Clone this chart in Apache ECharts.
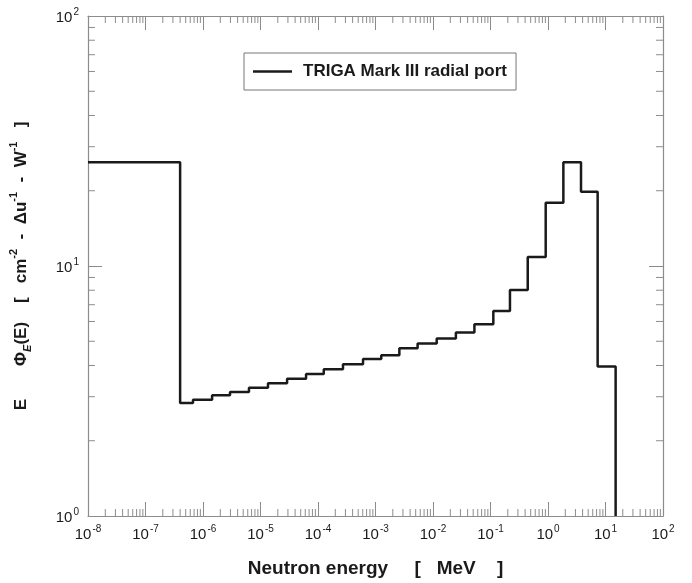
<!DOCTYPE html>
<html>
<head>
<meta charset="utf-8">
<script src="https://cdn.jsdelivr.net/npm/echarts@6/dist/echarts.min.js"></script>
<style>
  html, body { margin: 0; padding: 0; background: #fff; }
  #chart { width: 692px; height: 583px; }
</style>
</head>
<body>
<div id="chart"></div>
<script>
// bin edges [MeV] and flux per bin (lethargy units)
var binEdges = [1e-8, 4.0e-7, 6.7e-7, 1.44e-6, 2.95e-6, 6.3e-6, 1.35e-5, 2.9e-5, 6.2e-5,
  1.26e-4, 2.72e-4, 6.07e-4, 1.26e-3, 2.6e-3, 5.4e-3, 1.16e-2, 2.5e-2, 5.25e-2,
  0.112, 0.218, 0.444, 0.912, 1.85, 3.75, 7.3, 15];
var binValues = [26.0, 2.83, 2.92, 3.04, 3.13, 3.26, 3.40, 3.54, 3.70, 3.86, 4.05, 4.25,
  4.40, 4.69, 4.90, 5.13, 5.42, 5.85, 6.61, 8.01, 10.86, 17.9, 26.0, 19.8, 3.96];
var xDecades = [1e-8, 1e-7, 1e-6, 1e-5, 1e-4, 1e-3, 1e-2, 1e-1, 1, 10, 100];
var yDecades = [1, 10, 100];
var minorMult = [2, 3, 4, 5, 6, 7, 8, 9];

var seriesName = "TRIGA Mark III radial port";
var frameColor = "#8c8c8c";
var inkColor = "#1a1a1a";

// step line: each bin starts at its left edge, last point drops to the axis floor
var stepData = [];
for (var i = 0; i < binValues.length; i++) {
  stepData.push([binEdges[i], binValues[i]]);
}
stepData.push([binEdges[binEdges.length - 1], 1]);

// minor tick positions (2..9 inside each decade)
var tickData = [];
for (var d = 0; d < xDecades.length - 1; d++) {
  minorMult.forEach(function (m) { tickData.push([xDecades[d] * m, 1, 0]); });
}
for (var k = 0; k < yDecades.length - 1; k++) {
  minorMult.forEach(function (m) { tickData.push([1e-8, yDecades[k] * m, 1]); });
}

function powLabel(v) {
  var e = Math.round(Math.log10(v));
  return "{b|10}{s|" + e + "}";
}

var labelRich = {
  b: { fontSize: 15, fontFamily: "Liberation Sans", color: inkColor, lineHeight: 18, verticalAlign: "bottom" },
  s: { fontSize: 10, fontFamily: "Liberation Sans", color: inkColor, lineHeight: 18, verticalAlign: "top", padding: [0, 0, 0, 1] }
};

function nameRich(size) {
  return {
    t: { fontSize: size, fontWeight: "bold", fontFamily: "Liberation Sans", color: inkColor, lineHeight: 22, verticalAlign: "bottom" },
    sup: { fontSize: 11, fontWeight: "bold", fontFamily: "Liberation Sans", color: inkColor, lineHeight: 22, verticalAlign: "top" },
    sub: { fontSize: 11, fontWeight: "bold", fontStyle: "italic", fontFamily: "Liberation Sans", color: inkColor, lineHeight: 22, verticalAlign: "bottom", padding: [0, 0, -3, 0] }
  };
}

var myChart = echarts.init(document.getElementById("chart"));
var option = {
  animation: false,
  backgroundColor: "#fff",
  grid: { left: 88, right: 29, top: 16, bottom: 63 },
  legend: {
    data: [{ name: seriesName, icon: "rect" }],
    left: 244,
    top: 53,
    padding: [10, 9, 10, 9],
    borderColor: "#777",
    borderWidth: 1,
    itemWidth: 39,
    itemHeight: 2.5,
    itemStyle: { color: inkColor },
    textStyle: { fontSize: 17, fontWeight: "bold", fontFamily: "Liberation Sans", color: inkColor, padding: [0, 0, 0, 6] }
  },
  xAxis: [
    {
      type: "log",
      min: 1e-8,
      max: 100,
      logBase: 10,
      interval: 1,
      name: "{t|Neutron energy     [   MeV    ]}",
      nameLocation: "middle",
      nameGap: 40,
      nameTextStyle: { rich: nameRich(19) },
      axisLine: { lineStyle: { color: frameColor, width: 1.2 } },
      axisTick: { inside: true, length: 14, lineStyle: { color: frameColor } },
      splitLine: { show: false },
      axisLabel: { interval: 0, margin: 8, formatter: powLabel, rich: labelRich }
    },
    {
      type: "log",
      position: "top",
      min: 1e-8,
      max: 100,
      logBase: 10,
      interval: 1,
      axisLine: { lineStyle: { color: frameColor, width: 1.2 } },
      axisTick: { inside: true, length: 14, lineStyle: { color: frameColor } },
      splitLine: { show: false },
      axisLabel: { show: false }
    }
  ],
  yAxis: [
    {
      type: "log",
      min: 1,
      max: 100,
      logBase: 10,
      interval: 1,
      name: "{t|E       Φ}{sub|E}{t|(E)    [   cm}{sup|-2}{t|  -  Δu}{sup|-1}{t|  -  W}{sup|-1}{t|   ]}",
      nameLocation: "middle",
      nameRotate: 90,
      nameGap: 58,
      nameTextStyle: { rich: nameRich(17) },
      axisLine: { lineStyle: { color: frameColor, width: 1.2 } },
      axisTick: { inside: true, length: 14, lineStyle: { color: frameColor } },
      splitLine: { show: false },
      axisLabel: { interval: 0, margin: 9, formatter: powLabel, rich: labelRich }
    },
    {
      type: "log",
      position: "right",
      min: 1,
      max: 100,
      logBase: 10,
      interval: 1,
      axisLine: { lineStyle: { color: frameColor, width: 1.2 } },
      axisTick: { inside: true, length: 14, lineStyle: { color: frameColor } },
      splitLine: { show: false },
      axisLabel: { show: false }
    }
  ],
  series: [
    {
      name: seriesName,
      type: "line",
      step: "end",
      symbol: "none",
      data: stepData,
      lineStyle: { color: inkColor, width: 2.5 },
      itemStyle: { color: inkColor },
      z: 5
    },
    {
      name: "minor ticks",
      type: "custom",
      silent: true,
      clip: false,
      data: tickData,
      renderItem: function (params, api) {
        var isY = api.value(2) === 1;
        var cs = params.coordSys;
        var p = api.coord([api.value(0), api.value(1)]);
        var len = 7;
        var lines;
        if (!isY) {
          lines = [
            [p[0], cs.y + cs.height, p[0], cs.y + cs.height - len],
            [p[0], cs.y, p[0], cs.y + len]
          ];
        } else {
          lines = [
            [cs.x, p[1], cs.x + len, p[1]],
            [cs.x + cs.width, p[1], cs.x + cs.width - len, p[1]]
          ];
        }
        return {
          type: "group",
          children: lines.map(function (l) {
            return {
              type: "line",
              shape: { x1: l[0], y1: l[1], x2: l[2], y2: l[3] },
              style: { stroke: frameColor, lineWidth: 1 }
            };
          })
        };
      }
    }
  ]
};
myChart.setOption(option);
window.addEventListener("resize", function () {
  myChart.resize();
});
</script>
</body>
</html>
